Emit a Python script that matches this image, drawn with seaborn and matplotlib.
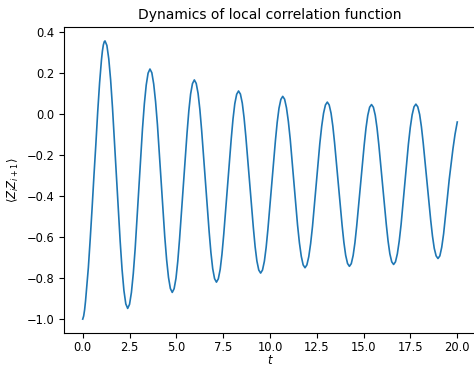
import matplotlib
matplotlib.use("Agg")
import matplotlib.pyplot as plt
import seaborn as sns
import pandas as pd

# time values
t_values = [
    0.0, 0.05, 0.1, 0.15, 0.2, 0.3, 0.4, 0.5, 0.6, 0.7, 0.8, 0.9, 1.0, 1.05, 1.1, 1.15, 1.19,
    1.29, 1.39, 1.49, 1.59, 1.795, 2.00, 2.10, 2.20, 2.30, 2.40,
    2.50, 2.60, 2.70, 2.80, 2.995, 3.19, 3.29, 3.39, 3.49, 3.59,
    3.69, 3.79, 3.89, 3.99, 4.185, 4.38, 4.48, 4.58, 4.68, 4.78,
    4.88, 4.98, 5.075, 5.17, 5.37, 5.57, 5.665, 5.76, 5.86, 5.96,
    6.06, 6.16, 6.255, 6.35, 6.55, 6.75, 6.845, 6.94, 7.04, 7.14,
    7.24, 7.34, 7.435, 7.53, 7.73, 7.93, 8.025, 8.12, 8.22, 8.32,
    8.42, 8.52, 8.615, 8.71, 8.91, 9.11, 9.205, 9.30, 9.40, 9.50,
    9.60, 9.70, 9.795, 9.89, 10.09, 10.29, 10.385, 10.48, 10.58, 10.68,
    10.78, 10.88, 10.98, 11.08, 11.275, 11.47, 11.57, 11.67, 11.77, 11.87,
    11.97, 12.07, 12.17, 12.27, 12.465, 12.66, 12.76, 12.86, 12.96, 13.06,
    13.16, 13.26, 13.355, 13.45, 13.65, 13.85, 13.945, 14.04, 14.14, 14.24,
    14.34, 14.44, 14.535, 14.63, 14.83, 15.03, 15.125, 15.22, 15.32, 15.42,
    15.52, 15.62, 15.715, 15.81, 16.01, 16.21, 16.305, 16.40, 16.50, 16.60,
    16.70, 16.80, 16.90, 17.00, 17.195, 17.39, 17.49, 17.59, 17.69, 17.79,
    17.89, 17.99, 18.085, 18.18, 18.38, 18.58, 18.675, 18.77, 18.87, 18.97,
    19.07, 19.17, 19.27, 19.37, 19.47, 19.57, 19.67, 19.77, 19.88, 20.0,
]

# local correlation <Z_i Z_{i+1}>
corr_values = [
    -1.0, -0.985, -0.955, -0.912, -0.86, -0.75, -0.61, -0.46, -0.30, -0.15, 0.01, 0.15, 0.262, 0.305, 0.335, 0.351, 0.355,
    0.333, 0.268, 0.165, 0.029, -0.297, -0.622, -0.758, -0.861, -0.926, -0.948,
    -0.928, -0.870, -0.778, -0.657, -0.365, -0.074, 0.048, 0.140, 0.198, 0.218,
    0.200, 0.145, 0.059, -0.054, -0.326, -0.598, -0.711, -0.797, -0.851, -0.870,
    -0.852, -0.801, -0.719, -0.611, -0.353, -0.094, 0.014, 0.096, 0.147, 0.165,
    0.148, 0.099, 0.021, -0.081, -0.328, -0.574, -0.676, -0.754, -0.803, -0.820,
    -0.804, -0.758, -0.684, -0.587, -0.355, -0.122, -0.025, 0.049, 0.095, 0.111,
    0.096, 0.052, -0.019, -0.111, -0.333, -0.554, -0.647, -0.717, -0.761, -0.776,
    -0.761, -0.718, -0.650, -0.561, -0.346, -0.130, -0.041, 0.027, 0.070, 0.085,
    0.071, 0.029, -0.037, -0.124, -0.333, -0.541, -0.628, -0.694, -0.736, -0.750,
    -0.736, -0.696, -0.632, -0.548, -0.347, -0.145, -0.061, 0.003, 0.043, 0.057,
    0.043, 0.003, -0.060, -0.143, -0.343, -0.543, -0.626, -0.689, -0.729, -0.743,
    -0.730, -0.690, -0.628, -0.546, -0.349, -0.152, -0.070, -0.008, 0.032, 0.045,
    0.032, -0.007, -0.069, -0.150, -0.345, -0.539, -0.620, -0.682, -0.721, -0.734,
    -0.721, -0.682, -0.620, -0.539, -0.344, -0.148, -0.067, -0.005, 0.034, 0.047,
    0.034, -0.003, -0.063, -0.141, -0.329, -0.517, -0.595, -0.655, -0.692, -0.705,
    -0.692, -0.650, -0.585, -0.500, -0.410, -0.320, -0.243, -0.170, -0.100, -0.040,
]

x_ticks = [0.0, 2.5, 5.0, 7.5, 10.0, 12.5, 15.0, 17.5, 20.0]
y_ticks = [-1.0, -0.8, -0.6, -0.4, -0.2, 0.0, 0.2, 0.4]

plt.rcParams['font.size'] = 8.3
plt.rcParams['font.family'] = ['DejaVu Sans']
plt.rcParams['xtick.major.pad'] = 2.5

df = pd.DataFrame({"t": t_values, "corr": corr_values})

fig = plt.figure(figsize=(4.74, 3.66), dpi=100)
ax = fig.add_axes([64 / 474, 33 / 366, 412 / 474, 306 / 366])
sns.lineplot(data=df, x="t", y="corr", ax=ax, color="#1f77b4", linewidth=1.2)
for line in ax.get_lines():
    line.set_solid_joinstyle("round")

ax.set_xticks(x_ticks)
ax.set_yticks(y_ticks)
ax.set_title("Dynamics of local correlation function")
ax.set_xlabel("$t$", labelpad=0)
ax.set_ylabel(r"$\langle Z_iZ_{i+1}\rangle$")

fig.savefig("out.png", dpi=100)
